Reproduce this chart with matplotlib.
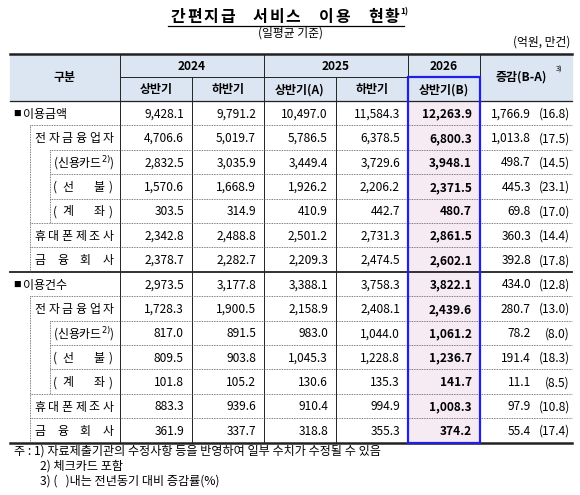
import matplotlib
matplotlib.use('Agg')
import matplotlib.pyplot as plt
from matplotlib.patches import Rectangle
import numpy as np

plt.rcParams['font.family'] = ['Noto Sans CJK KR', 'DejaVu Sans']
plt.rcParams['mathtext.fontset'] = 'dejavusans'

# ---- data ----
years = ['2024', '2025', '2026']
halves = ['상반기', '하반기', '상반기(A)', '하반기', '상반기(B)']
row_labels = ['이용금액', '전자금융업자', '신용카드', '선불', '계좌', '휴대폰제조사', '금융회사',
              '이용건수', '전자금융업자', '신용카드', '선불', '계좌', '휴대폰제조사', '금융회사']
h24a = [9428.1, 4706.6, 2832.5, 1570.6, 303.5, 2342.8, 2378.7, 2973.5, 1728.3, 817.0, 809.5, 101.8, 883.3, 361.9]
h24b = [9791.2, 5019.7, 3035.9, 1668.9, 314.9, 2488.8, 2282.7, 3177.8, 1900.5, 891.5, 903.8, 105.2, 939.6, 337.7]
h25a = [10497.0, 5786.5, 3449.4, 1926.2, 410.9, 2501.2, 2209.3, 3388.1, 2158.9, 983.0, 1045.3, 130.6, 910.4, 318.8]
h25b = [11584.3, 6378.5, 3729.6, 2206.2, 442.7, 2731.3, 2474.5, 3758.3, 2408.1, 1044.0, 1228.8, 135.3, 994.9, 355.3]
h26a = [12263.9, 6800.3, 3948.1, 2371.5, 480.7, 2861.5, 2602.1, 3822.1, 2439.6, 1061.2, 1236.7, 141.7, 1008.3, 374.2]
diff = [1766.9, 1013.8, 498.7, 445.3, 69.8, 360.3, 392.8, 434.0, 280.7, 78.2, 191.4, 11.1, 97.9, 55.4]
pct = [16.8, 17.5, 14.5, 23.1, 17.0, 14.4, 17.8, 12.8, 13.0, 8.0, 18.3, 8.5, 10.8, 17.4]
levels = [0, 1, 2, 2, 2, 1, 1, 0, 1, 2, 2, 2, 1, 1]

W, H = 580, 495
fig = plt.figure(figsize=(W / 100, H / 100), dpi=100)
ax = fig.add_axes([0, 0, 1, 1])
ax.set_xlim(0, W); ax.set_ylim(H, 0); ax.axis('off')

FS = 8.6
dark = '#222222'
cols = [10, 120, 192, 264, 336, 408, 480, 572]
top, mid, hb = 54, 77, 101
rh = 24.4
n = len(row_labels)
bottom = hb + rh * n

# title, spaced to the reference width
title = '간편지급 서비스 이용 현황'
tx = np.linspace(178, 392, len(title))
for c, x in zip(title, tx):
    ax.text(x, 17, c, ha='center', va='center', fontsize=11.5, fontweight='bold')
ax.plot([168, 404], [26, 26], color='k', lw=0.9)
ax.text(400, 12, '1)', ha='left', va='center', fontsize=6, fontweight='bold')
ax.text(290, 33, '(일평균 기준)', ha='center', va='center', fontsize=8.5)
ax.text(570, 42, '(억원, 만건)', ha='right', va='center', fontsize=8.5)

# header background and pink column
ax.add_patch(Rectangle((cols[0], top), cols[-1] - cols[0], hb - top, color='#DCE6F2', zorder=0))
ax.add_patch(Rectangle((408, hb), 72, bottom - hb, color='#F6EAF3', zorder=0))

# header text
for i, y in enumerate(years):
    x0, x1 = [(120, 264), (264, 408), (408, 480)][i]
    ax.text((x0 + x1) / 2, (top + mid) / 2 + 1, y, ha='center', va='center', fontsize=FS, fontweight='bold')
for i, h in enumerate(halves):
    ax.text((cols[i + 1] + cols[i + 2]) / 2, (mid + hb) / 2 + 1, h, ha='center', va='center', fontsize=FS, fontweight='bold')
ax.text(65, (top + hb) / 2, '구분', ha='center', va='center', fontsize=FS, fontweight='bold')
ax.text(521, (top + hb) / 2, '증감(B-A)', ha='center', va='center', fontsize=FS, fontweight='bold')
ax.text(556, 70, '3)', ha='left', va='center', fontsize=5.5)

# lines
ax.plot([cols[0], cols[-1]], [top, top], color=dark, lw=1.8)
ax.plot([120, 480], [mid, mid], color=dark, lw=0.7)
ax.plot([cols[0], cols[-1]], [hb, hb], color=dark, lw=0.9)
sec = hb + rh * 7
ax.plot([cols[0], cols[-1]], [sec, sec], color=dark, lw=1.3)
ax.plot([cols[0], cols[-1]], [bottom, bottom], color=dark, lw=1.8)
for x in [120, 192, 264, 336, 408, 480]:
    yt = top if x in (120, 264, 408, 480) else mid
    ax.plot([x, x], [yt, bottom], color=dark, lw=0.7)
ax.add_patch(Rectangle((408, mid), 72, bottom - mid, fill=False, ec='#1F1FE6', lw=1.6, zorder=5))

def spread(text, x0, x1, y, bold=False):
    chars = list(text)
    for c, x in zip(chars, np.linspace(x0, x1, len(chars))):
        ax.text(x, y, c, ha='center', va='center', fontsize=FS, fontweight='bold' if bold else 'normal')

for i in range(n):
    yc = hb + rh * (i + 0.5) + 1
    yt = hb + rh * i
    lab, lv = row_labels[i], levels[i]
    # row separators (dotted)
    if i not in (0, 7):
        xs = 30 if lv == 1 else 50
        ax.plot([xs, cols[-1]], [yt, yt], color='#555555', lw=0.6, ls=(0, (1, 1)))
    if lv == 0:
        ax.text(17, yc, '■', ha='center', va='center', fontsize=5.5)
        ax.text(23, yc, lab, ha='left', va='center', fontsize=FS)
    elif lv == 1:
        spread(lab, 40, 108, yc)
    else:
        if lab == '신용카드':
            ax.text(53, yc, '(신용카드$^{2)}$)', ha='left', va='center', fontsize=FS)
        else:
            spread('(' + lab[0], 55, 68, yc)
            spread(lab[1] + ')', 99, 111, yc)
    vals = [h24a[i], h24b[i], h25a[i], h25b[i], h26a[i]]
    for j, v in enumerate(vals):
        ax.text(cols[j + 2] - 8, yc, f'{v:,.1f}', ha='right', va='center', fontsize=FS,
                fontweight='bold' if j == 4 else 'normal')
    ax.text(531, yc, f'{diff[i]:,.1f}', ha='right', va='center', fontsize=FS)
    ax.text(570, yc, f'({pct[i]:.1f})', ha='right', va='center', fontsize=FS)

# nested dotted vertical guides
for x, y0, y1 in [(30, hb + rh, sec), (50, hb + rh * 2, hb + rh * 5),
                  (30, sec + rh, bottom), (50, sec + rh * 2, sec + rh * 5)]:
    ax.plot([x, x], [y0, y1], color='#555555', lw=0.6, ls=(0, (1, 1)))

# notes
ax.text(14, 451, '주 : 1) 자료제출기관의 수정사항 등을 반영하여 일부 수치가 수정될 수 있음', ha='left', va='center', fontsize=8.7)
ax.text(40, 466, '2) 체크카드 포함', ha='left', va='center', fontsize=8.7)
ax.text(40, 481, '3) (   )내는 전년동기 대비 증감률(%)', ha='left', va='center', fontsize=8.7)

fig.savefig('out.png', dpi=100)
